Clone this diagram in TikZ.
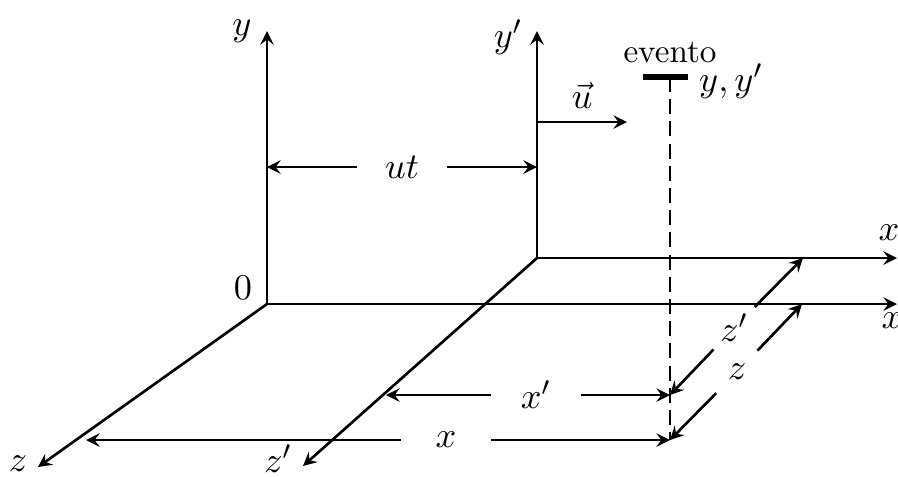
\documentclass[tikz,border=0pt]{standalone}
\begin{document}
\begin{tikzpicture}[x=0.0106cm,y=-0.0106cm,>=stealth,thick]
  \tikzstyle{lab}=[font=\fontsize{11}{13}\selectfont]
  \tikzstyle{gap}=[lab, inner sep=0pt, minimum width=0.93cm, minimum height=0.4cm]
  \tikzstyle{dgap}=[lab, circle, inner sep=0pt, minimum size=0.6cm]
  \useasboundingbox (0,0) rectangle (898,476);

  \coordinate (o) at (267,304);
  \coordinate (op) at (537,258);
  \coordinate (yt) at (267,31);
  \coordinate (ypt) at (537,31);
  \coordinate (xt) at (897,304);
  \coordinate (xpt) at (897,258);
  \coordinate (zt) at (38,467);
  \coordinate (zpt) at (303,466);

  \draw[->] (o) -- (yt);
  \draw[->] (o) -- (xt);
  \draw[->] (o) -- (zt);
  \draw[->] (op) -- (ypt);
  \draw[->] (op) -- (xpt);
  \draw[->] (op) -- (zpt);

  \node[lab] (ylbl) at (242,31) {$y$};
  \node[lab] (yplbl) at (508,37) {$y'$};
  \node[lab] (olbl) at (243,288) {$0$};
  \node[lab] (zlbl) at (18,464) {$z$};
  \node[lab, inner sep=1pt] (zplbl) at (278,459) {$z'$};
  \node[lab] (xlbl) at (889,233) {$x$};
  \node[lab] (xplbl) at (892,321) {$x$};

  \coordinate (u0) at (537,122);
  \coordinate (u1) at (627,122);
  \draw[->] (u0) -- (u1);
  \node[lab] (ulbl) at (582,96) {$\vec{u}$};

  \coordinate (e1) at (643,77);
  \coordinate (e2) at (688,77);
  \coordinate (et) at (670,77);
  \coordinate (a) at (670,440);
  \coordinate (ap) at (670,395);
  \draw[line width=1.6pt] (e1) -- (e2);
  \draw[dash pattern=on 4.5pt off 2.2pt] (et) -- (a);
  \node (ev) at (670,52) {evento};
  \node[lab] (yy) at (731,81) {$y,y'$};

  \node[gap] (ut) at (402,167) {$ut$};
  \draw[->] (ut) -- (ut -| o);
  \draw[->] (ut) -- (ut -| op);

  \coordinate (lp) at (386,395);
  \node[gap] (xd') at (536,395) {$x'$};
  \draw[->] (xd') -- (lp);
  \draw[->] (xd') -- (ap);

  \coordinate (l) at (86,440);
  \node[gap] (xd) at (446,440) {$x$};
  \draw[->] (xd) -- (l);
  \draw[->] (xd) -- (a);

  \coordinate (bp) at (803,258);
  \node[dgap] (zd') at (734,328) {$z'$};
  \draw[->] (zd') -- (bp);
  \draw[->] (zd') -- (ap);

  \coordinate (b) at (802,304);
  \node[dgap] (zd) at (737,372) {$z$};
  \draw[->] (zd) -- (b);
  \draw[->] (zd) -- (a);
\end{tikzpicture}
\end{document}
